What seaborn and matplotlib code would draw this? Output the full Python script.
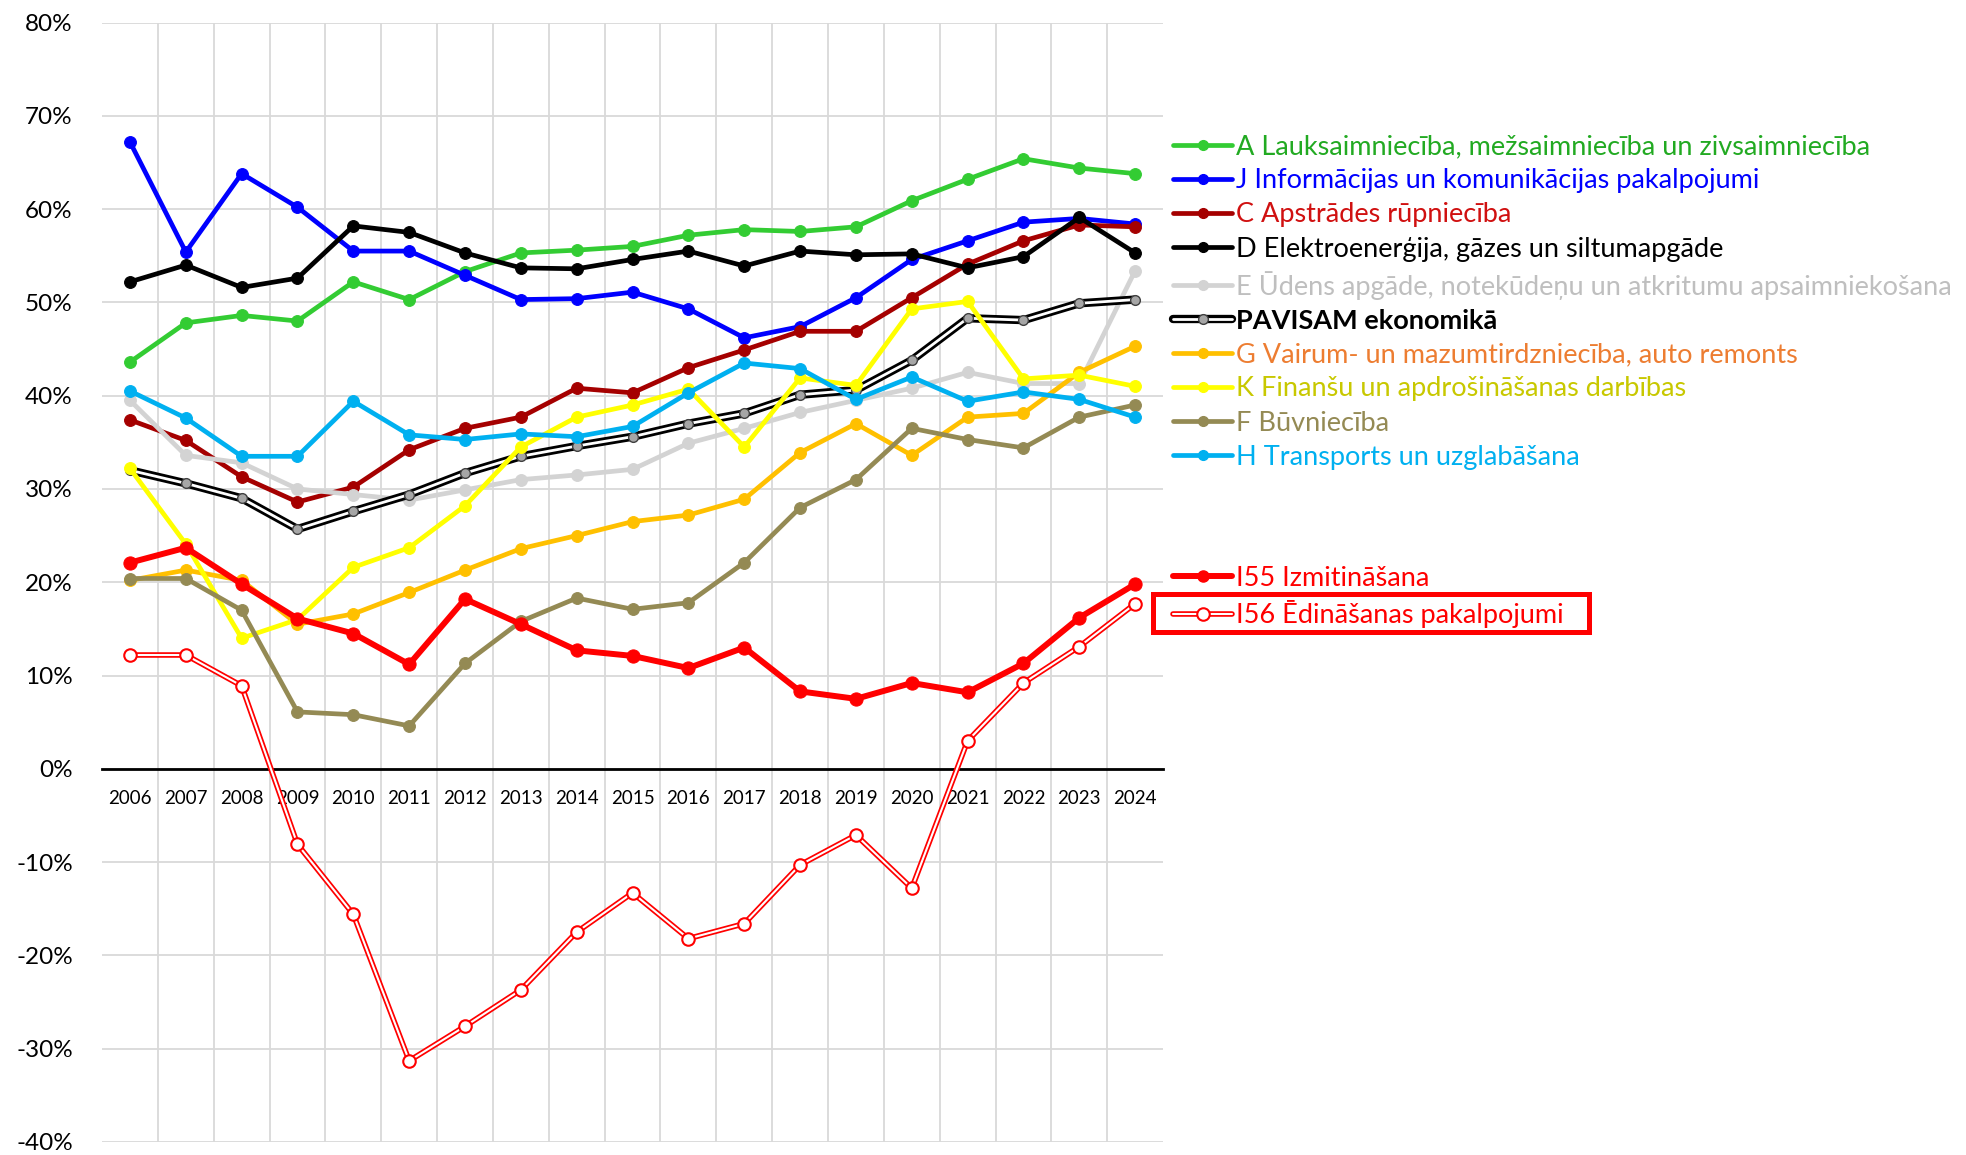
import numpy as np
import pandas as pd
import seaborn as sns
import matplotlib.pyplot as plt
from matplotlib.lines import Line2D
from matplotlib.patches import Rectangle
from matplotlib.legend_handler import HandlerTuple
from matplotlib.ticker import FuncFormatter, MultipleLocator, FixedLocator

YEARS = list(range(2006, 2025))

# values in %
A_LAUKS = [43.6, 47.8, 48.6, 48.0, 52.2, 50.3, 53.3, 55.3, 55.6, 56.0, 57.2, 57.8, 57.6, 58.1, 60.9, 63.2, 65.4, 64.4, 63.8]
J_INFO = [67.2, 55.4, 63.8, 60.2, 55.5, 55.5, 52.9, 50.3, 50.4, 51.1, 49.3, 46.2, 47.4, 50.5, 54.6, 56.6, 58.6, 59.0, 58.4]
C_APSTR = [37.4, 35.2, 31.3, 28.6, 30.2, 34.2, 36.5, 37.7, 40.8, 40.3, 43.0, 44.9, 46.9, 46.9, 50.5, 54.1, 56.6, 58.3, 58.1]
D_ELEKTR = [52.2, 54.0, 51.6, 52.6, 58.2, 57.5, 55.3, 53.7, 53.6, 54.6, 55.5, 53.9, 55.5, 55.1, 55.2, 53.7, 54.9, 59.1, 55.3]
E_UDENS = [39.5, 33.6, 32.8, 30.0, 29.4, 28.8, 29.9, 31.0, 31.5, 32.1, 34.9, 36.5, 38.2, 39.5, 40.8, 42.5, 41.3, 41.3, 53.4]
PAVISAM = [32.0, 30.6, 29.0, 25.7, 27.6, 29.4, 31.7, 33.5, 34.6, 35.6, 37.0, 38.1, 40.1, 40.6, 43.8, 48.3, 48.1, 49.9, 50.3]
G_TIRDZ = [20.2, 21.3, 20.2, 15.5, 16.6, 18.9, 21.3, 23.6, 25.0, 26.5, 27.2, 28.9, 33.9, 37.0, 33.6, 37.7, 38.1, 42.5, 45.3]
K_FIN = [32.2, 24.1, 14.0, 16.0, 21.6, 23.7, 28.2, 34.5, 37.7, 39.0, 40.7, 34.5, 41.9, 41.1, 49.3, 50.1, 41.8, 42.2, 41.0]
F_BUVN = [20.4, 20.4, 17.0, 6.1, 5.8, 4.6, 11.3, 15.8, 18.3, 17.1, 17.8, 22.1, 28.0, 31.0, 36.5, 35.3, 34.4, 37.7, 39.0]
H_TRANSP = [40.5, 37.6, 33.5, 33.5, 39.4, 35.8, 35.3, 35.9, 35.6, 36.7, 40.3, 43.5, 42.9, 39.6, 42.0, 39.4, 40.4, 39.6, 37.7]
I55_IZMIT = [22.1, 23.7, 19.8, 16.1, 14.5, 11.2, 18.2, 15.5, 12.7, 12.1, 10.8, 13.0, 8.3, 7.5, 9.2, 8.2, 11.3, 16.2, 19.8]
I56_EDIN = [12.2, 12.2, 8.9, -8.1, -15.6, -31.3, -27.6, -23.7, -17.5, -13.3, -18.2, -16.6, -10.3, -7.1, -12.8, 3.0, 9.2, 13.1, 17.7]

LABELS = [
    "A Lauksaimniecība, mežsaimniecība un zivsaimniecība",
    "J Informācijas un komunikācijas pakalpojumi",
    "C Apstrādes rūpniecība",
    "D Elektroenerģija, gāzes un siltumapgāde",
    "E Ūdens apgāde, notekūdeņu un atkritumu apsaimniekošana",
    "PAVISAM ekonomikā",
    "G Vairum- un mazumtirdzniecība, auto remonts",
    "K Finanšu un apdrošināšanas darbības",
    "F Būvniecība",
    "H Transports un uzglabāšana",
]
LABELS_HORECA = ["I55 Izmitināšana", "I56 Ēdināšanas pakalpojumi"]

LINE_COLORS = ["#33CC33", "#0000FF", "#A50000", "#000000", "#D3D3D3",
               "#000000", "#FFC000", "#FFFF00", "#948A54", "#00B0F0"]
TEXT_COLORS = ["#22AA22", "#0000FF", "#D01010", "#000000", "#BFBFBF",
               "#000000", "#ED7D31", "#C8C800", "#948A54", "#00B0F0"]

sns.set_style("white")
plt.rcParams["font.family"] = ["Lato", "DejaVu Sans"]

fig = plt.figure(figsize=(19.66, 11.55), dpi=100)
ax = fig.add_axes([0.0519, 0.0113, 0.5397, 0.9692])

LW = 3.4
MS = 8.5
series = [A_LAUKS, J_INFO, C_APSTR, D_ELEKTR, E_UDENS, PAVISAM,
          G_TIRDZ, K_FIN, F_BUVN, H_TRANSP]

handles = []
for i, vals in enumerate(series):
    col = LINE_COLORS[i]
    if LABELS[i].startswith("PAVISAM"):
        # double line: black outline with white core
        sns.lineplot(x=YEARS, y=vals, ax=ax, color="black", lw=6.0, zorder=2 + i)
        sns.lineplot(x=YEARS, y=vals, ax=ax, color="white", lw=2.0, marker="o",
                     markersize=7, markerfacecolor="#A6A6A6", markeredgecolor="#404040",
                     markeredgewidth=1.0, zorder=2 + i)
        h = (Line2D([], [], color="black", lw=6.0),
             Line2D([], [], color="white", lw=2.0, marker="o", markersize=7,
                    markerfacecolor="#A6A6A6", markeredgecolor="#404040"))
    else:
        sns.lineplot(x=YEARS, y=vals, ax=ax, color=col, lw=LW, marker="o",
                     markersize=MS, markeredgecolor=col, zorder=2 + i)
        h = Line2D([], [], color=col, lw=LW, marker="o", markersize=MS - 1.5,
                   markeredgecolor=col)
    handles.append(h)

# I55 / I56
sns.lineplot(x=YEARS, y=I55_IZMIT, ax=ax, color="#FF0000", lw=4.3, marker="o",
             markersize=9.5, markeredgecolor="#FF0000", zorder=20)
sns.lineplot(x=YEARS, y=I56_EDIN, ax=ax, color="#FF0000", lw=4.0, zorder=21)
sns.lineplot(x=YEARS, y=I56_EDIN, ax=ax, color="white", lw=1.5, marker="o",
             markersize=9, markerfacecolor="white", markeredgecolor="#FF0000",
             markeredgewidth=1.5, zorder=21)
h55 = Line2D([], [], color="#FF0000", lw=4.3, marker="o", markersize=8,
             markeredgecolor="#FF0000")
h56 = (Line2D([], [], color="#FF0000", lw=4.0),
       Line2D([], [], color="white", lw=1.5, marker="o", markersize=9,
              markerfacecolor="white", markeredgecolor="#FF0000", markeredgewidth=1.5))

ax.set_xlim(2005.5, 2024.5)
ax.set_ylim(-40, 80)
ax.set_xticks(YEARS)
ax.set_xticklabels([str(y) for y in YEARS])
ax.xaxis.set_minor_locator(FixedLocator([y + 0.5 for y in YEARS[:-1]]))
ax.yaxis.set_major_locator(MultipleLocator(10))
ax.yaxis.set_major_formatter(FuncFormatter(lambda v, p: f"{int(round(v))}%"))

ax.grid(False)
ax.grid(True, axis="y", which="major", color="#D9D9D9", lw=1.3)
ax.grid(True, axis="x", which="minor", color="#D9D9D9", lw=1.3)
ax.set_axisbelow(True)
for s in ["top", "right", "left"]:
    ax.spines[s].set_visible(False)
ax.spines["bottom"].set_position(("data", 0))
ax.spines["bottom"].set_color("black")
ax.spines["bottom"].set_linewidth(2.0)
ax.spines["bottom"].set_zorder(1.5)
ax.tick_params(axis="x", which="both", length=0, pad=15, labelsize=13.5, colors="#000000")
ax.tick_params(axis="y", which="both", length=0, pad=21, labelsize=17.5, colors="#000000")
ax.set_xlabel("")
ax.set_ylabel("")

LEG_KW = dict(loc="upper left", frameon=False, fontsize=19.5, handlelength=2.2,
              handletextpad=0.13, labelspacing=0.34, borderpad=0, borderaxespad=0,
              handler_map={tuple: HandlerTuple(ndivide=1)})

leg1 = fig.legend(handles, LABELS, bbox_to_anchor=(0.5966, 0.884), **LEG_KW)
for t, c in zip(leg1.get_texts(), TEXT_COLORS):
    t.set_color(c)
leg1.get_texts()[5].set_fontweight("bold")

leg2 = fig.legend([h55, h56], LABELS_HORECA, bbox_to_anchor=(0.5966, 0.510), **LEG_KW)
for t in leg2.get_texts():
    t.set_color("#FF0000")

# highlight box around the I56 entry
fig.patches.append(Rectangle((0.5865, 0.4528), 0.2218, 0.0329, transform=fig.transFigure,
                             fill=False, edgecolor="#FF0000", lw=3.6))

fig.savefig("out.png", dpi=100)
